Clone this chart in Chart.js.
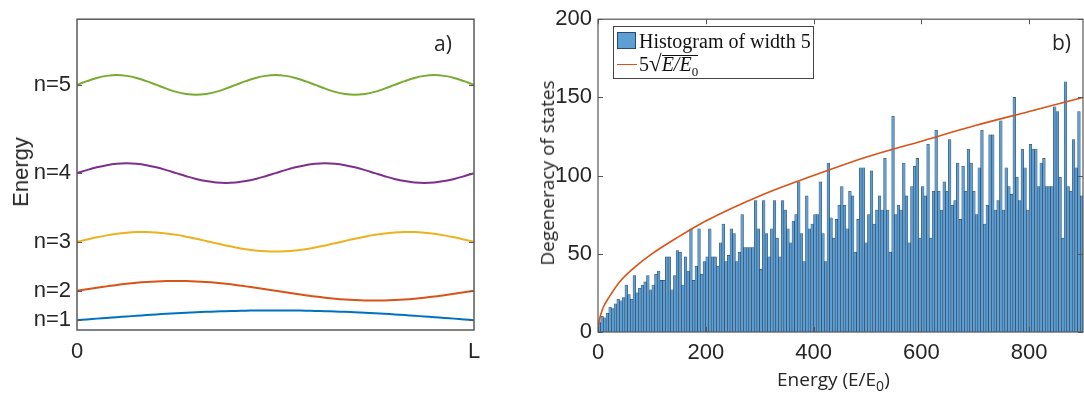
<!DOCTYPE html>
<html>
<head>
<meta charset="utf-8">
<script src="https://cdn.jsdelivr.net/npm/chart.js@4.4.0/dist/chart.umd.min.js"></script>
<style>
  body { margin: 0; background: #fff; }
  #wrap { position: relative; width: 1084px; height: 396px; overflow: hidden; background: #fff; }
  canvas { position: absolute; top: 0; }
  .txt { position: absolute; color: #262626; white-space: nowrap; }
  .vt { position: absolute; color: #262626; white-space: nowrap; transform: translate(-50%, -50%) rotate(-90deg); }
  #legend { position: absolute; left: 613px; top: 26px; width: 199px; height: 51px; border: 1px solid #444; background: #fff;
            font-family: "Liberation Serif", "DejaVu Serif", serif; font-size: 20px; color: #111; }
  #legend .row { position: absolute; left: 2px; height: 24px; line-height: 24px; }
  #legend .sw { position: absolute; left: 1px; top: 3px; width: 19px; height: 17px; background: #5d9fd3; border: 1px solid #2a4a6a; box-sizing: border-box; }
  #legend .ln { position: absolute; left: 1px; top: 12px; width: 20px; height: 0; border-top: 1.6px solid #D95319; }
  .rad { display: inline-block; line-height: 17px; border-top: 1.2px solid #111; font-style: italic; vertical-align: 0px; }
</style>
</head>
<body>
<div id="wrap">
  <canvas id="chartA" width="520" height="396" style="left:0"></canvas>
  <canvas id="chartB" width="564" height="396" style="left:520px"></canvas>

  <div class="vt" style="left:21px; top:172px; font: 22px 'Liberation Sans', Arial, sans-serif;">Energy</div>
  <div class="txt" style="left:434px; top:29px; font: 21px 'Open Sans', sans-serif;">a)</div>

  <div class="vt" style="left:547px; top:173px; font: 19px 'Open Sans', sans-serif;">Degeneracy of states</div>
  <div class="txt" style="left:777px; top:366px; font: 19px 'Open Sans', sans-serif;">Energy (E/E<sub style="font-size:14px">0</sub>)</div>
  <div class="txt" style="left:1052px; top:28px; font: 21px 'Open Sans', sans-serif;">b)</div>

  <div id="legend">
    <div class="row" style="top:2px"><span class="sw"></span><span style="margin-left:23px">Histogram of width 5</span></div>
    <div class="row" style="top:25px"><span class="ln"></span><span style="margin-left:23px">5<span style="font-size:23px">&radic;</span><span class="rad">E/E<sub style="font-size:13px; font-style:normal">0</sub></span></span></div>
  </div>
</div>

<script>
// ---- panel a) : standing waves on the energy levels ----
const levelNames = ["n=1", "n=2", "n=3", "n=4", "n=5"];
const levelValues = [1, 4, 9, 16, 25];
const waveColors = ["#0072BD", "#D95319", "#EDB120", "#7E2F8E", "#77AC30"];
const xPos = [0, 0.025, 0.05, 0.075, 0.1, 0.125, 0.15, 0.175, 0.2, 0.225, 0.25, 0.275, 0.3, 0.325, 0.35, 0.375,
  0.4, 0.425, 0.45, 0.475, 0.5, 0.525, 0.55, 0.575, 0.6, 0.625, 0.65, 0.675, 0.7, 0.725, 0.75, 0.775,
  0.8, 0.825, 0.85, 0.875, 0.9, 0.925, 0.95, 0.975, 1];
const wave1 = [1, 1.08, 1.16, 1.23, 1.31, 1.38, 1.45, 1.52, 1.59, 1.65, 1.71, 1.76, 1.81, 1.85, 1.89, 1.92, 1.95, 1.97, 1.99, 2, 2,
  2, 1.99, 1.97, 1.95, 1.92, 1.89, 1.85, 1.81, 1.76, 1.71, 1.65, 1.59, 1.52, 1.45, 1.38, 1.31, 1.23, 1.16, 1.08, 1];
const wave2 = [4, 4.16, 4.31, 4.45, 4.59, 4.71, 4.81, 4.89, 4.95, 4.99, 5, 4.99, 4.95, 4.89, 4.81, 4.71, 4.59, 4.45, 4.31, 4.16, 4,
  3.84, 3.69, 3.55, 3.41, 3.29, 3.19, 3.11, 3.05, 3.01, 3, 3.01, 3.05, 3.11, 3.19, 3.29, 3.41, 3.55, 3.69, 3.84, 4];
const wave3 = [9, 9.23, 9.45, 9.65, 9.81, 9.92, 9.99, 10, 9.95, 9.85, 9.71, 9.52, 9.31, 9.08, 8.84, 8.62, 8.41, 8.24, 8.11, 8.03, 8,
  8.03, 8.11, 8.24, 8.41, 8.62, 8.84, 9.08, 9.31, 9.52, 9.71, 9.85, 9.95, 10, 9.99, 9.92, 9.81, 9.65, 9.45, 9.23, 9];
const wave4 = [16, 16.31, 16.59, 16.81, 16.95, 17, 16.95, 16.81, 16.59, 16.31, 16, 15.69, 15.41, 15.19, 15.05, 15, 15.05, 15.19, 15.41, 15.69, 16,
  16.31, 16.59, 16.81, 16.95, 17, 16.95, 16.81, 16.59, 16.31, 16, 15.69, 15.41, 15.19, 15.05, 15, 15.05, 15.19, 15.41, 15.69, 16];
const wave5 = [25, 25.38, 25.71, 25.92, 26, 25.92, 25.71, 25.38, 25, 24.62, 24.29, 24.08, 24, 24.08, 24.29, 24.62, 25, 25.38, 25.71, 25.92, 26,
  25.92, 25.71, 25.38, 25, 24.62, 24.29, 24.08, 24, 24.08, 24.29, 24.62, 25, 25.38, 25.71, 25.92, 26, 25.92, 25.71, 25.38, 25];
const xTickA = [0, 1];
const xTickLabelsA = ["0", "L"];

// ---- panel b) : degeneracy histogram ----
const binWidth = 5;
const counts = [
  6, 10, 9, 12, 16, 15, 18, 21, 20, 22,
  30, 24, 21, 36, 25, 28, 30, 32, 36, 27,
  30, 37, 39, 33, 33, 48, 48, 27, 36, 52,
  51, 30, 48, 39, 66, 33, 42, 66, 37, 45,
  48, 66, 48, 48, 42, 57, 69, 45, 49, 66,
  63, 45, 51, 75, 54, 54, 54, 54, 84, 66,
  40, 84, 63, 48, 66, 84, 60, 48, 84, 78,
  66, 57, 71, 75, 96, 63, 45, 87, 66, 69,
  75, 75, 96, 63, 45, 108,
  73, 60, 72, 81, 93, 81, 66, 90, 87, 51,
  72, 105, 105, 57, 75, 103, 69, 78, 87, 78,
  111, 78, 51, 138, 75, 81, 78, 108, 87, 57,
  93, 106, 111, 60, 93, 87, 120, 60, 90, 129,
  90, 78, 96, 90, 123, 81, 84, 108, 72, 106,
  90, 117, 108, 90, 75, 105, 129, 69, 81, 126,
  126, 78, 84, 135, 78, 105, 93, 88, 150, 99,
  84, 117, 105, 78, 120, 117, 117, 93, 108, 111,
  93, 93, 93, 144, 141, 99, 60, 160, 93, 90,
  123, 105, 141, 87
];
const fitE = [0, 0.5, 1, 2, 5, 10, 20, 40, 70, 100, 150, 200, 300, 400, 500, 600, 700, 800, 900];
const fitVal = [0, 3.5, 5, 7, 11, 16, 22, 32, 42, 50, 61, 71, 87, 100, 112, 122, 132, 141, 150];
const xTickB = [0, 200, 400, 600, 800];
const yTickB = [0, 50, 100, 150, 200];

Chart.defaults.font.family = "'Liberation Sans', Arial, sans-serif";
Chart.defaults.color = "#262626";

// box round the plot + small inside ticks, like matlab axes
function boxPlugin(color, width, xt, yt) {
  return {
    id: "box",
    afterDraw(chart) {
      const { ctx, chartArea: a, scales } = chart;
      ctx.save();
      ctx.strokeStyle = color;
      ctx.lineWidth = width;
      ctx.strokeRect(a.left, a.top, a.right - a.left, a.bottom - a.top);
      ctx.lineWidth = 1;
      xt.forEach((v) => {
        const px = Math.round(scales.x.getPixelForValue(v)) + 0.5;
        ctx.beginPath();
        ctx.moveTo(px, a.bottom); ctx.lineTo(px, a.bottom - 5);
        ctx.moveTo(px, a.top); ctx.lineTo(px, a.top + 5);
        ctx.stroke();
      });
      yt.forEach((v) => {
        const py = Math.round(scales.y.getPixelForValue(v)) + 0.5;
        ctx.beginPath();
        ctx.moveTo(a.left, py); ctx.lineTo(a.left + 5, py);
        ctx.moveTo(a.right, py); ctx.lineTo(a.right - 5, py);
        ctx.stroke();
      });
      ctx.restore();
    },
  };
}

const waves = [wave1, wave2, wave3, wave4, wave5];

new Chart(document.getElementById("chartA"), {
  type: "line",
  data: {
    datasets: waves.map((w, i) => ({
      label: levelNames[i],
      data: xPos.map((x, k) => ({ x: x, y: w[k] })),
      borderColor: waveColors[i],
      borderWidth: 2,
      pointRadius: 0,
      tension: 0.4,
      fill: false,
    })),
  },
  options: {
    responsive: false,
    animation: false,
    layout: { padding: { top: 13, right: 46, left: 0, bottom: 0 } },
    plugins: { legend: { display: false }, tooltip: { enabled: false } },
    scales: {
      x: {
        type: "linear",
        min: 0,
        max: 1,
        afterBuildTicks: (s) => { s.ticks = xTickA.map((v) => ({ value: v })); },
        afterFit: (s) => { s.height = 66; },
        ticks: { callback: (v, i) => xTickLabelsA[i], font: { size: 22 }, padding: 9, maxRotation: 0, autoSkip: false },
        grid: { display: false, drawTicks: false },
        border: { display: false },
      },
      y: {
        min: 0,
        max: 31.7,
        afterBuildTicks: (s) => { s.ticks = levelValues.map((v) => ({ value: v })); },
        afterFit: (s) => { s.width = 77; },
        ticks: { callback: (v, i) => levelNames[i], font: { size: 22 }, padding: 6, autoSkip: false },
        grid: { display: false, drawTicks: false },
        border: { display: false },
      },
    },
  },
  plugins: [boxPlugin("#5a5a5a", 1.5, [], levelValues)],
});

new Chart(document.getElementById("chartB"), {
  data: {
    datasets: [
      {
        type: "line",
        label: "5 sqrt(E/E0)",
        data: fitE.map((e, i) => ({ x: e, y: fitVal[i] })),
        borderColor: "#D95319",
        borderWidth: 1.6,
        pointRadius: 0,
        cubicInterpolationMode: "monotone",
        order: 0,
      },
      {
        type: "bar",
        label: "Histogram of width 5",
        data: counts.map((c, i) => ({ x: binWidth * (i + 0.5), y: c })),
        backgroundColor: "#5d9fd3",
        borderColor: "rgba(20,45,75,0.85)",
        borderWidth: 0.6,
        barPercentage: 1,
        categoryPercentage: 1,
        order: 1,
      },
    ],
  },
  options: {
    responsive: false,
    animation: false,
    layout: { padding: { top: 16, right: 1, left: 0, bottom: 0 } },
    plugins: { legend: { display: false }, tooltip: { enabled: false } },
    scales: {
      x: {
        type: "linear",
        min: 0,
        max: 900,
        offset: false,
        afterBuildTicks: (s) => { s.ticks = xTickB.map((v) => ({ value: v })); },
        afterFit: (s) => { s.height = 64; },
        ticks: { font: { size: 22 }, padding: 8, maxRotation: 0, autoSkip: false },
        grid: { display: false, drawTicks: false, offset: false },
        border: { display: false },
      },
      y: {
        min: 0,
        max: 200,
        afterBuildTicks: (s) => { s.ticks = yTickB.map((v) => ({ value: v })); },
        afterFit: (s) => { s.width = 78; },
        ticks: { font: { size: 22 }, padding: 6, autoSkip: false },
        grid: { display: false, drawTicks: false },
        border: { display: false },
      },
    },
  },
  plugins: [boxPlugin("#555", 1.2, xTickB, yTickB)],
});
</script>
</body>
</html>
